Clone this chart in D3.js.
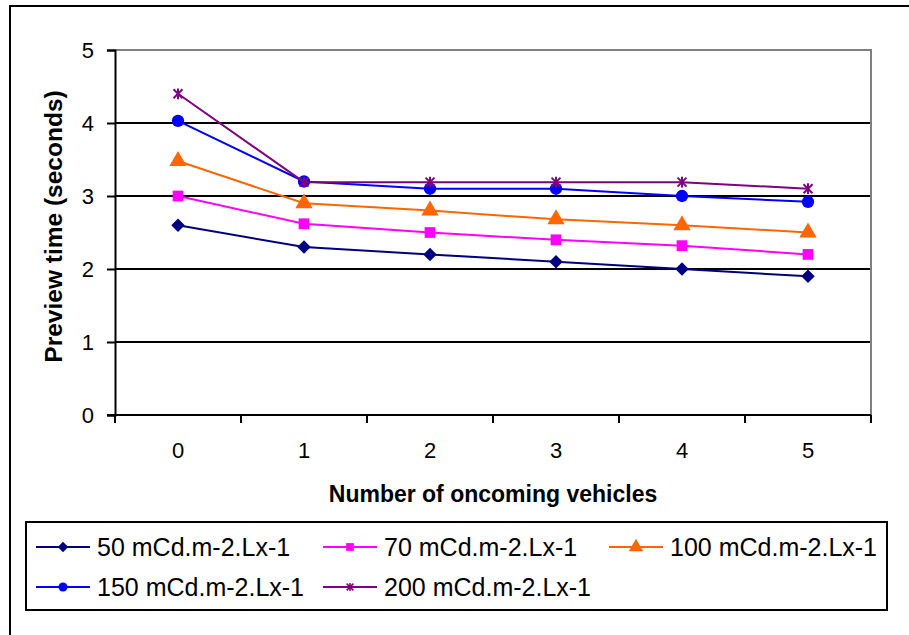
<!DOCTYPE html>
<html>
<head>
<meta charset="utf-8">
<script src="https://cdn.jsdelivr.net/npm/d3@7"></script>
<style>
  html, body { margin: 0; padding: 0; background: #fff; }
  svg { display: block; font-family: Arial, "Liberation Sans", sans-serif; }
</style>
</head>
<body>
<div id="chart"></div>
<script>
const categories = ['0', '1', '2', '3', '4', '5'];
const seriesNames = ['50 mCd.m-2.Lx-1', '70 mCd.m-2.Lx-1', '100 mCd.m-2.Lx-1', '150 mCd.m-2.Lx-1', '200 mCd.m-2.Lx-1'];
const s50 = [2.6, 2.3, 2.2, 2.1, 2.0, 1.9];
const s70 = [3.0, 2.62, 2.5, 2.4, 2.32, 2.2];
const s100 = [3.48, 2.9, 2.8, 2.68, 2.6, 2.5];
const s150 = [4.03, 3.2, 3.1, 3.1, 3.0, 2.92];
const s200 = [4.4, 3.19, 3.19, 3.19, 3.19, 3.1];
const yTicks = [0, 1, 2, 3, 4, 5];
const colors = ['#000080', '#FF00FF', '#FF6600', '#0000FF', '#800080'];

const width = 909, height = 635;
const plotLeft = 115, plotRight = 871, plotTop = 50, plotBottom = 415;

const svg = d3.select('#chart').append('svg')
  .attr('width', width)
  .attr('height', height);

// outer chart border (runs past right/bottom edge)
svg.append('rect')
  .attr('x', 10).attr('y', 6)
  .attr('width', 910).attr('height', 640)
  .attr('fill', 'none').attr('stroke', '#000').attr('stroke-width', 2);

const x = d3.scaleBand().domain(categories).range([plotLeft, plotRight]).padding(0);
const y = d3.scaleLinear().domain([0, 5]).range([plotBottom, plotTop]);
const cx = c => x(c) + x.bandwidth() / 2;

// gridlines
svg.append('g').selectAll('line')
  .data(yTicks.filter(d => d > 0 && d < 5))
  .enter().append('line')
  .attr('x1', plotLeft).attr('x2', plotRight)
  .attr('y1', d => y(d)).attr('y2', d => y(d))
  .attr('stroke', '#000').attr('stroke-width', 2);

// plot frame top/right (gray)
svg.append('path')
  .attr('d', `M${plotLeft},${y(5)}H${plotRight}V${plotBottom}`)
  .attr('fill', 'none').attr('stroke', '#808080').attr('stroke-width', 2);

// y axis
const yAxis = d3.axisLeft(y).tickValues(yTicks).tickFormat(d3.format('d')).tickSize(8).tickPadding(13);
const gy = svg.append('g').attr('transform', `translate(${plotLeft},0)`).call(yAxis);
gy.select('.domain').attr('stroke-width', 2);
gy.selectAll('.tick line').attr('stroke-width', 2);
gy.selectAll('.tick text').attr('font-size', 22).attr('font-family', 'Arial, "Liberation Sans", sans-serif').attr('fill', '#000');

// x axis labels at band centers
const xAxis = d3.axisBottom(x).tickSize(0).tickPadding(27);
const gx = svg.append('g').attr('transform', `translate(0,${plotBottom})`).call(xAxis);
gx.select('.domain').remove();
gx.selectAll('.tick text').attr('font-size', 22).attr('font-family', 'Arial, "Liberation Sans", sans-serif').attr('fill', '#000');

// x axis line + boundary ticks
svg.append('line')
  .attr('x1', plotLeft - 8).attr('x2', plotRight)
  .attr('y1', plotBottom).attr('y2', plotBottom)
  .attr('stroke', '#000').attr('stroke-width', 2);
svg.append('g').selectAll('line')
  .data(categories.map(c => x(c)).concat([plotRight]))
  .enter().append('line')
  .attr('x1', d => d).attr('x2', d => d)
  .attr('y1', plotBottom).attr('y2', plotBottom + 8)
  .attr('stroke', '#000').attr('stroke-width', 2);

// axis titles
svg.append('text')
  .attr('x', (plotLeft + plotRight) / 2).attr('y', 502)
  .attr('text-anchor', 'middle')
  .attr('font-size', 23).attr('font-weight', 'bold')
  .text('Number of oncoming vehicles');
svg.append('text')
  .attr('transform', `translate(62,${(plotTop + plotBottom) / 2 - 6}) rotate(-90)`)
  .attr('text-anchor', 'middle')
  .attr('font-size', 24.5).attr('font-weight', 'bold')
  .text('Preview time (seconds)');

// Excel-like markers
const symbolDiamond = {
  draw(ctx, size) {
    const r = Math.sqrt(size) / 2 * 1.35;
    ctx.moveTo(0, -r); ctx.lineTo(r, 0); ctx.lineTo(0, r); ctx.lineTo(-r, 0); ctx.closePath();
  }
};
const symbolStar = {
  draw(ctx, size) {
    const r = Math.sqrt(size) / 2;
    ctx.moveTo(-r, -r); ctx.lineTo(r, r);
    ctx.moveTo(r, -r); ctx.lineTo(-r, r);
    ctx.moveTo(0, -r * 1.2); ctx.lineTo(0, r * 1.2);
  }
};
const markerTypes = [symbolDiamond, d3.symbolSquare, d3.symbolTriangle, d3.symbolCircle, symbolStar];
const markerSizes = [100, 115, 130, 120, 80];
const legendSizes = [60, 60, 90, 65, 45];

const seriesData = [s50, s70, s100, s150, s200];
const line = d3.line().x((d, i) => cx(categories[i])).y(d => y(d));

seriesData.forEach((vals, si) => {
  const g = svg.append('g');
  g.append('path')
    .attr('d', line(vals))
    .attr('fill', 'none')
    .attr('stroke', colors[si])
    .attr('stroke-width', 2);
  const sym = d3.symbol().type(markerTypes[si]).size(markerSizes[si]);
  g.selectAll('path.m').data(vals).enter().append('path')
    .attr('class', 'm')
    .attr('transform', (d, i) => `translate(${cx(categories[i])},${y(d)})`)
    .attr('d', sym)
    .attr('fill', si === 4 ? 'none' : colors[si])
    .attr('stroke', colors[si])
    .attr('stroke-width', si === 4 ? 2 : 0);
});

// legend
svg.append('rect')
  .attr('x', 26).attr('y', 522)
  .attr('width', 861).attr('height', 88)
  .attr('fill', '#fff').attr('stroke', '#000').attr('stroke-width', 2);

const legCols = [36, 323, 609];
const legRows = [547, 587];
seriesNames.forEach((name, si) => {
  const lx = legCols[si % 3], ly = legRows[Math.floor(si / 3)];
  const g = svg.append('g').attr('transform', `translate(${lx},${ly})`);
  g.append('line').attr('x1', 0).attr('x2', 54).attr('y1', 0).attr('y2', 0)
    .attr('stroke', colors[si]).attr('stroke-width', 2);
  g.append('path')
    .attr('transform', 'translate(27,0)')
    .attr('d', d3.symbol().type(markerTypes[si]).size(legendSizes[si]))
    .attr('fill', si === 4 ? 'none' : colors[si])
    .attr('stroke', colors[si])
    .attr('stroke-width', si === 4 ? 1.5 : 0);
  g.append('text')
    .attr('x', 61).attr('y', 0).attr('dy', '0.35em')
    .attr('font-size', 25)
    .text(name);
});
</script>
</body>
</html>
